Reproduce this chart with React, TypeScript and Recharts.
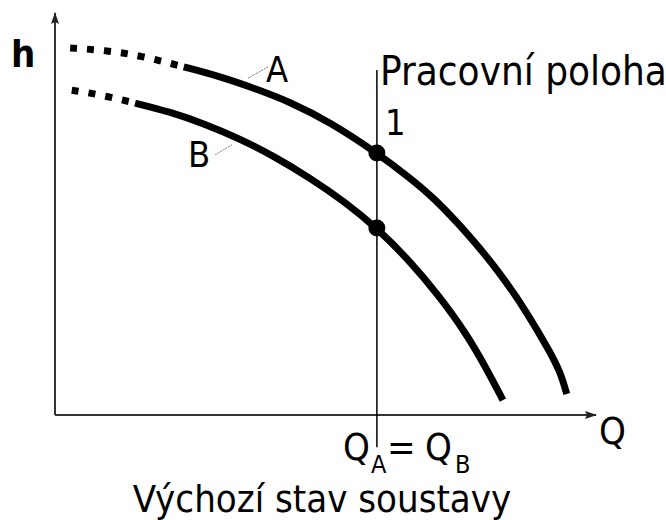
import React from 'react';
import { ComposedChart, Line, Scatter, XAxis, YAxis, ReferenceLine } from 'recharts';

// pump curves (q = flow, h = head, both in % of axis)
const curveADotted = [
  { q: 2.8, h: 91.3 },
  { q: 9.6, h: 90.7 },
  { q: 16.1, h: 89.3 },
  { q: 23.8, h: 86.6 },
];
const curveASolid = [
  { q: 23.8, h: 86.6 },
  { q: 30.5, h: 84.2 },
  { q: 37.0, h: 81.2 },
  { q: 43.4, h: 77.9 },
  { q: 50.8, h: 72.9 },
  { q: 59.5, h: 65.2 },
  { q: 65.6, h: 59.0 },
  { q: 69.9, h: 54.2 },
  { q: 76.2, h: 45.3 },
  { q: 82.3, h: 35.3 },
  { q: 87.3, h: 25.4 },
  { q: 91.5, h: 15.7 },
  { q: 93.4, h: 10.7 },
  { q: 94.6, h: 5.2 },
];
const curveBDotted = [
  { q: 3.1, h: 80.8 },
  { q: 8.3, h: 79.7 },
  { q: 14.8, h: 77.6 },
];
const curveBSolid = [
  { q: 14.8, h: 77.6 },
  { q: 21.3, h: 75.4 },
  { q: 27.7, h: 72.4 },
  { q: 34.2, h: 68.7 },
  { q: 40.7, h: 64.2 },
  { q: 47.1, h: 59.0 },
  { q: 53.6, h: 53.0 },
  { q: 59.5, h: 46.5 },
  { q: 65.6, h: 38.3 },
  { q: 71.0, h: 29.6 },
  { q: 75.8, h: 20.7 },
  { q: 79.5, h: 12.2 },
  { q: 82.8, h: 3.7 },
];
const operatingQ = 59.5;
const operatingPoints = [
  { q: operatingQ, h: 65.2 },
  { q: operatingQ, h: 46.5 },
];
const leaderA = [{ x: 35.7, y: 83.8 }, { x: 39.4, y: 86.6 }];
const leaderB = [{ x: 29.6, y: 64.7 }, { x: 32.7, y: 67.2 }];

const FONT = "'DejaVu Sans Condensed', 'DejaVu Sans', sans-serif";

const ArrowLine = (props: any) => (
  <line
    x1={props.x1}
    y1={props.y1}
    x2={props.x2}
    y2={props.y2}
    stroke="#333"
    strokeWidth={2}
    markerEnd="url(#arrowHead)"
  />
);

const Dot = (props: any) => <circle cx={props.cx} cy={props.cy} r={8.5} fill="#000" />;

export default function App() {
  return (
    <div style={{ position: 'absolute', left: 0, top: 0, width: 666, height: 520, background: '#fff' }}>
      <ComposedChart width={666} height={520} margin={{ top: 13, right: 70, bottom: 105, left: 55 }}>
        <defs>
          <marker id="arrowHead" markerUnits="userSpaceOnUse" markerWidth={12} markerHeight={8} refX={11} refY={4} orient="auto">
            <path d="M0,0 L12,4 L0,8 L2,4 z" fill="#222" />
          </marker>
        </defs>
        <XAxis type="number" dataKey="q" domain={[0, 100]} hide allowDataOverflow />
        <YAxis type="number" dataKey="h" domain={[0, 100]} hide allowDataOverflow />

        {/* axes with arrows */}
        <ReferenceLine segment={[{ x: 0, y: 0 }, { x: 100, y: 0 }]} shape={ArrowLine} ifOverflow="visible" />
        <ReferenceLine segment={[{ x: 0, y: 0 }, { x: 0, y: 100 }]} shape={ArrowLine} ifOverflow="visible" />

        {/* working position */}
        <ReferenceLine
          segment={[{ x: operatingQ, y: -8 }, { x: operatingQ, y: 85.8 }]}
          stroke="#000"
          strokeWidth={1.5}
          ifOverflow="visible"
        />

        {/* leader lines for curve names */}
        <ReferenceLine segment={leaderA} stroke="#777" strokeWidth={1} strokeDasharray="2 1" ifOverflow="visible" />
        <ReferenceLine segment={leaderB} stroke="#777" strokeWidth={1} strokeDasharray="2 1" ifOverflow="visible" />

        <Line data={curveADotted} dataKey="h" type="basis" stroke="#000" strokeWidth={7} strokeDasharray="7 10" dot={false} activeDot={false} isAnimationActive={false} />
        <Line data={curveASolid} dataKey="h" type="basis" stroke="#000" strokeWidth={7} dot={false} activeDot={false} isAnimationActive={false} />
        <Line data={curveBDotted} dataKey="h" type="basis" stroke="#000" strokeWidth={7} strokeDasharray="7 10" dot={false} activeDot={false} isAnimationActive={false} />
        <Line data={curveBSolid} dataKey="h" type="basis" stroke="#000" strokeWidth={7} dot={false} activeDot={false} isAnimationActive={false} />
        <Scatter data={operatingPoints} dataKey="h" shape={Dot} isAnimationActive={false} />

        <g fontFamily={FONT} fill="#000">
          <text x={11} y={67} fontSize={38} fontWeight="bold">h</text>
          <text x={266} y={82} fontSize={36}>A</text>
          <text x={188} y={167} fontSize={36}>B</text>
          <text x={385} y={135} fontSize={36}>1</text>
          <text x={380} y={85} fontSize={40}>Pracovní poloha</text>
          <text x={599} y={444} fontSize={38}>Q</text>
          <text x={343} y={460} fontSize={38}>Q</text>
          <text x={371} y={473} fontSize={25}>A</text>
          <text x={387} y={460} fontSize={38}>=</text>
          <text x={425} y={460} fontSize={38}>Q</text>
          <text x={455} y={473} fontSize={25}>B</text>
          <text x={322} y={512} fontSize={38} textAnchor="middle">Výchozí stav soustavy</text>
        </g>
      </ComposedChart>
    </div>
  );
}
